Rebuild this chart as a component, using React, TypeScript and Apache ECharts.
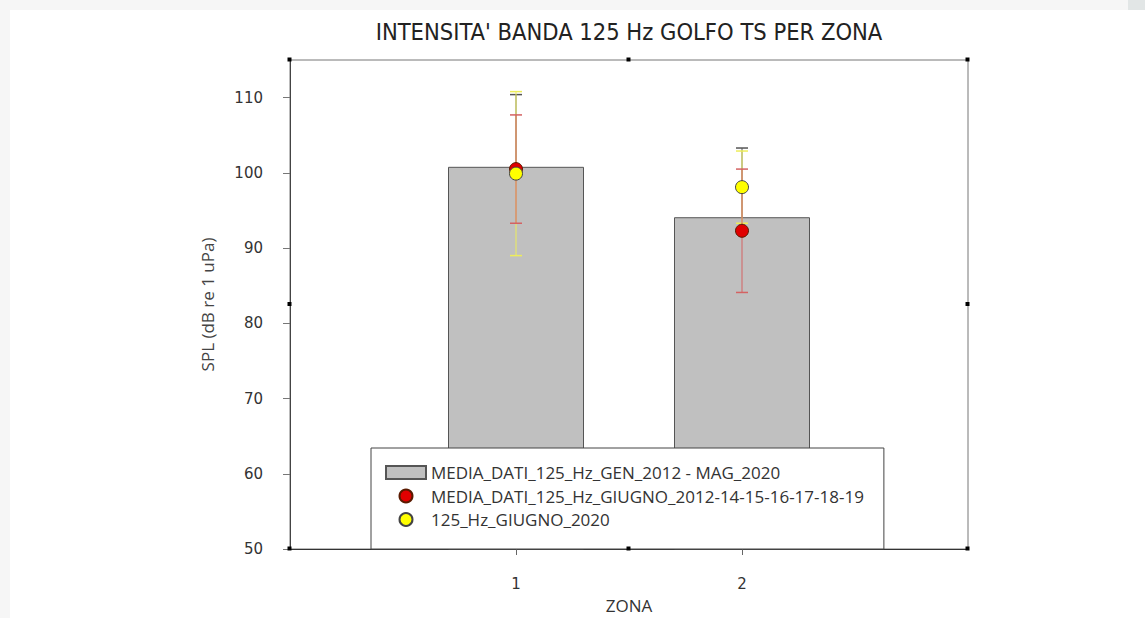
import React, { useEffect, useRef } from "react";
import * as echarts from "echarts";

// ---- data ----
const zones = [1, 2];
const yTickValues = [50, 60, 70, 80, 90, 100, 110];
const xTickValues = [1, 2];
const barMeans = [100.8, 94.1];
const barErr = [9.6, 9.2];
const juneMeans = [100.5, 92.3];
const juneErr = [7.2, 8.2];
const june2020Means = [99.9, 98.1];
const june2020Err = [10.9, 4.8];

const BAR_NAME = "MEDIA_DATI_125_Hz_GEN_2012 - MAG_2020";
const JUNE_NAME = "MEDIA_DATI_125_Hz_GIUGNO_2012-14-15-16-17-18-19";
const J2020_NAME = "125_Hz_GIUGNO_2020";
const TITLE = "INTENSITA' BANDA 125 Hz GOLFO TS PER ZONA";

// layout
const W = 1145;
const H = 618;
const GL = 290;
const GT = 60;
const GR = 968;
const GB = 549;

function errRender(color: string, capHalf: number, upOnly: boolean, capWidth: number) {
  return (params: any, api: any) => {
    const x = api.value(0);
    const lo = api.value(1);
    const hi = api.value(2);
    const pLo = api.coord([x, lo]);
    const pHi = api.coord([x, hi]);
    const children: any[] = [
      {
        type: "line",
        shape: { x1: pLo[0], y1: pLo[1], x2: pHi[0], y2: pHi[1] },
        style: { stroke: color, lineWidth: 1 },
      },
      {
        type: "line",
        shape: { x1: pHi[0] - capHalf, y1: pHi[1], x2: pHi[0] + capHalf, y2: pHi[1] },
        style: { stroke: color, lineWidth: capWidth },
      },
    ];
    if (!upOnly) {
      children.push({
        type: "line",
        shape: { x1: pLo[0] - capHalf, y1: pLo[1], x2: pLo[0] + capHalf, y2: pLo[1] },
        style: { stroke: color, lineWidth: capWidth },
      });
    }
    return { type: "group", children };
  };
}

export default function App() {
  const ref = useRef<HTMLDivElement>(null);

  useEffect(() => {
    document.body.style.margin = "0";
    if (!ref.current) return;
    const chart = echarts.init(ref.current, undefined, { renderer: "svg" });

    const handles: [number, number][] = [
      [GL, GT], [(GL + GR) / 2, GT], [GR, GT],
      [GL, (GT + GB) / 2], [GR, (GT + GB) / 2],
      [GL, GB], [(GL + GR) / 2, GB], [GR, GB],
    ];

    chart.setOption({
      animation: false,
      backgroundColor: "transparent",
      title: {
        text: TITLE,
        left: 624,
        top: 15,
        textAlign: "center",
        textStyle: {
          fontFamily: "'DejaVu Sans Condensed', 'Liberation Sans Narrow', sans-serif",
          fontSize: 23.5,
          fontWeight: "normal",
          color: "#222",
        },
      },
      grid: {
        left: GL,
        top: GT,
        right: W - GR,
        bottom: H - GB,
        outerBoundsMode: "none",
        containLabel: false,
        show: true,
        borderColor: "#777",
        borderWidth: 1,
        backgroundColor: "transparent",
      },
      legend: {
        left: 371,
        top: 448,
        orient: "vertical",
        data: [
          { name: BAR_NAME, icon: "rect" },
          { name: JUNE_NAME, icon: "circle" },
          { name: J2020_NAME, icon: "circle" },
        ],
        itemWidth: 40,
        itemHeight: 13,
        itemGap: 6.5,
        itemTextGap: 12,
        padding: [16, 20, 21, 14],
        backgroundColor: "#fff",
        borderColor: "#444",
        borderWidth: 1,
        borderRadius: 0,
        selectedMode: false,
        textStyle: {
          fontFamily: "'Open Sans', sans-serif",
          fontSize: 17,
          color: "#333",
          lineHeight: 17,
        },
        z: 10,
      },
      xAxis: {
        type: "value",
        min: 0,
        max: 3,
        name: "ZONA",
        nameLocation: "middle",
        nameGap: 47,
        nameTextStyle: {
          fontFamily: "'Open Sans', sans-serif",
          fontSize: 17,
          color: "#333",
          lineHeight: 18,
        },
        splitLine: { show: false },
        axisLine: { show: true, lineStyle: { color: "#333", width: 1 } },
        axisTick: {
          show: true,
          inside: false,
          length: 6,
          customValues: xTickValues,
          lineStyle: { color: "#666" },
        },
        axisLabel: {
          customValues: xTickValues,
          margin: 27,
          fontFamily: "'DejaVu Sans', sans-serif",
          fontSize: 15,
          color: "#333",
        },
      },
      yAxis: {
        type: "value",
        min: 50,
        max: 115,
        interval: 10,
        name: "SPL (dB re 1 uPa)",
        nameLocation: "middle",
        nameGap: 74,
        nameTextStyle: {
          fontFamily: "'Open Sans', sans-serif",
          fontSize: 17,
          color: "#444",
        },
        splitLine: { show: false },
        axisLine: { show: true, lineStyle: { color: "#444", width: 1 } },
        axisTick: {
          show: true,
          inside: false,
          length: 7,
          customValues: yTickValues,
          lineStyle: { color: "#777" },
        },
        axisLabel: {
          customValues: yTickValues,
          margin: 27,
          fontFamily: "'DejaVu Sans', sans-serif",
          fontSize: 15,
          color: "#333",
        },
      },
      series: [
        {
          name: BAR_NAME,
          type: "bar",
          barWidth: 136,
          data: zones.map((z, i) => [z, barMeans[i]]),
          itemStyle: { color: "#c0c0c0", borderColor: "#555", borderWidth: 1 },
          z: 1,
        },
        {
          name: "barErr",
          type: "custom",
          renderItem: errRender("#555", 6, true, 1.5),
          data: zones.map((z, i) => [z, barMeans[i], barMeans[i] + barErr[i]]),
          encode: { x: 0, y: [1, 2] },
          silent: true,
          z: 2,
        },
        {
          name: "j2020Err",
          type: "custom",
          renderItem: errRender("#eded5a", 6, false, 1.5),
          data: zones.map((z, i) => [z, june2020Means[i] - june2020Err[i], june2020Means[i] + june2020Err[i]]),
          encode: { x: 0, y: [1, 2] },
          silent: true,
          z: 3,
        },
        {
          name: "juneErr",
          type: "custom",
          renderItem: errRender("#d46262", 6, false, 1.5),
          data: zones.map((z, i) => [z, juneMeans[i] - juneErr[i], juneMeans[i] + juneErr[i]]),
          encode: { x: 0, y: [1, 2] },
          silent: true,
          z: 4,
        },
        {
          name: JUNE_NAME,
          type: "scatter",
          symbol: "circle",
          symbolSize: 13,
          data: zones.map((z, i) => [z, juneMeans[i]]),
          itemStyle: { color: "#e00000", borderColor: "#5a1a00", borderWidth: 1, opacity: 1 },
          z: 5,
        },
        {
          name: J2020_NAME,
          type: "scatter",
          symbol: "circle",
          symbolSize: 13,
          data: zones.map((z, i) => [z, june2020Means[i]]),
          itemStyle: { color: "#ffff00", borderColor: "#444", borderWidth: 1, opacity: 1 },
          z: 6,
        },
      ],
      graphic: handles.map(([x, y]) => ({
        type: "rect",
        shape: { x: x - 2.5, y: y - 2.5, width: 4, height: 4 },
        style: { fill: "#000" },
        z: 20,
        silent: true,
      })),
    });

    return () => {
      chart.dispose();
    };
  }, []);

  return (
    <div style={{ position: "fixed", left: 0, top: 0, width: W, height: H, background: "#f6f6f6", overflow: "hidden" }}>
      <div style={{ position: "absolute", left: 10, top: 10, right: 0, bottom: 0, background: "#fff" }} />
      <div style={{ position: "absolute", left: 1128, top: 0, width: 17, height: 10, background: "#e2e6e6" }} />
      <div ref={ref} style={{ position: "absolute", left: 0, top: 0, width: W, height: H }} />
    </div>
  );
}
